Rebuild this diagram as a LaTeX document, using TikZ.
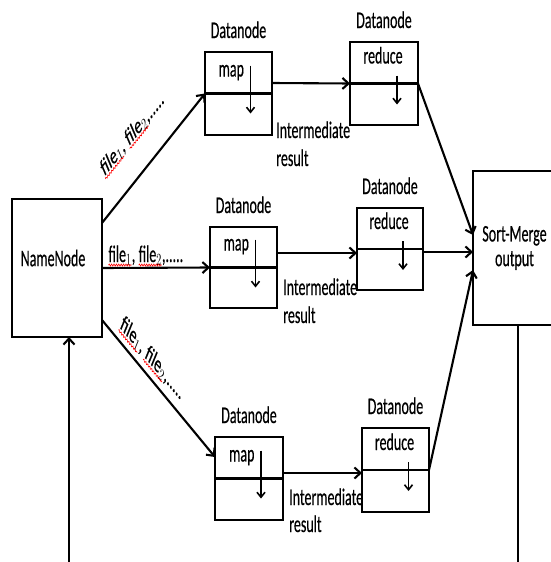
\documentclass[tikz,border=0pt]{standalone}
\usepackage{fontspec}
\setmainfont{Carlito}[FakeBold=0.5]
\usetikzlibrary{arrows.meta,calc,decorations.pathmorphing}
\newcommand\sqword[1]{\tikz[baseline=(w.base),x=1pt,y=1pt]{\node[inner sep=0pt,outer sep=0pt](w){#1};\draw[red,line width=0.5pt,decorate,decoration={snake,amplitude=0.6pt,segment length=2.4pt}] ([yshift=-1.8pt]w.base west) -- ([yshift=-1.8pt]w.base east);}}
\newcommand\filelist{\sqword{file$_1$}, \sqword{file$_2$},.....}
\begin{document}
\begin{tikzpicture}[x=1pt,y=-1pt,
  box/.style={draw, line width=2.1pt, inner sep=0pt, outer sep=0pt},
  mapbox/.style={box, minimum width=67pt, minimum height=83pt},
  conn/.style={line width=2.1pt},
  arr/.style={line width=2.1pt, -{Straight Barb[length=6pt,width=11pt]}},
  darr/.style={line width=1.6pt, -{Straight Barb[length=5pt,width=8pt]}},
  txt/.style={inner sep=0pt, font=\fontsize{14}{17}\selectfont, yscale=1.7, transform shape},
  flbl/.style={inner sep=0pt, font=\fontsize{14}{17}\selectfont, anchor=base west, transform shape}
]
\useasboundingbox (0,0) rectangle (551,562);

% NameNode and Sort-Merge
\node[box, minimum width=90pt, minimum height=138pt] (nn) at (57,268) {};
\node[txt] (nnt) at ($(nn.center)+(-4,-10)$) {NameNode};
\node[box, minimum width=87pt, minimum height=154pt] (sm) at (516.5,248) {};
\node[txt, align=center, font=\fontsize{14}{14.5}\selectfont] (smt) at ($(sm.center)+(-2,0)$) {Sort-Merge\\output};

% map boxes
\node[mapbox] (map1) at (238.5,93.5) {};
\node[mapbox, minimum height=81pt] (map2) at (243.5,267.5) {};
\node[mapbox, minimum width=68pt] (map3) at (249,478.5) {};
% reduce boxes
\node[mapbox, minimum width=68pt] (red1) at (384,83.5) {};
\node[mapbox, minimum width=66pt, minimum height=82pt] (red2) at (390,249) {};
\node[mapbox, minimum height=84pt] (red3) at (395.5,470) {};

\foreach \b in {map1,map2,map3,red1,red2,red3}{
  \draw[conn] (\b.west) -- (\b.east);
  \node[txt, anchor=base] at ($(\b.north)+(0,-14)$) {Datanode};
}
\foreach \b in {map1,map2,map3}{
  \node[txt, anchor=base west] at ($(\b.center)+(-20,-17)$) {map};
  \draw[darr] ($(\b.center)+(12,-28)$) -- ($(\b.center)+(12,20)$);
}
\foreach \b in {red1,red2,red3}{
  \node[txt, anchor=base] at ($(\b.center)+(-1,-20)$) {reduce};
  \draw[darr] ($(\b.center)+(13,-8)$) -- ($(\b.center)+(13,21)$);
}

% NameNode -> map
\draw[arr] ($(nn.north east)+(0,24)$) -- (map1.west);
\draw[arr] (nn.east) -- (map2.west);
\draw[arr] ($(nn.south east)+(0,-17)$) -- ($(map3.north west)+(0,20)$);

% file labels
\begin{scope}[shift={(104,177)}, yscale=1.7]
  \node[flbl, rotate=36] (f1) at (0,0) {\filelist};
\end{scope}
\node[txt, anchor=base west] (f2) at (108,262) {\filelist};
\begin{scope}[shift={(119,327)}, yscale=1.7]
  \node[flbl, rotate=-35] (f3) at (0,0) {\filelist};
\end{scope}

% map -> reduce
\draw[arr] (map1.east |- red1.center) ++(0,-0.5) -- (red1.west);
\draw[arr] ($(map2.east)+(0,-14.5)$) -- ($(map2.east)+(80,-14.5)$);
\draw[arr] ($(map3.east)+(0,-5.5)$) -- ($(map3.east)+(79,-5.5)$);

% intermediate result
\node[txt, anchor=base west] (i1) at (276,138) {Intermediate};
\node[txt, anchor=base west] (r1) at (276,166) {result};
\node[txt, anchor=base west] (i2) at (283,295) {Intermediate};
\node[txt, anchor=base west] (r2) at (283,323) {result};
\node[txt, anchor=base west] (i3) at (289,505) {Intermediate};
\node[txt, anchor=base west] (r3) at (289,532) {result};

% reduce -> Sort-Merge
\draw[arr] (red1.east) -- ($(sm.west)+(0,-13)$);
\draw[arr] ($(red2.east)+(0,3)$) coordinate (r2o) -- (r2o -| sm.west);
\draw[arr] (red3.east) -- ($(sm.west)+(0,22)$);

% bottom lines
\coordinate (b1) at (69,562);
\draw[arr] (b1) -- (b1 |- nn.south);
\coordinate (b2) at (518,562);
\draw[conn] (sm.south -| b2) -- (b2);
\end{tikzpicture}
\end{document}
